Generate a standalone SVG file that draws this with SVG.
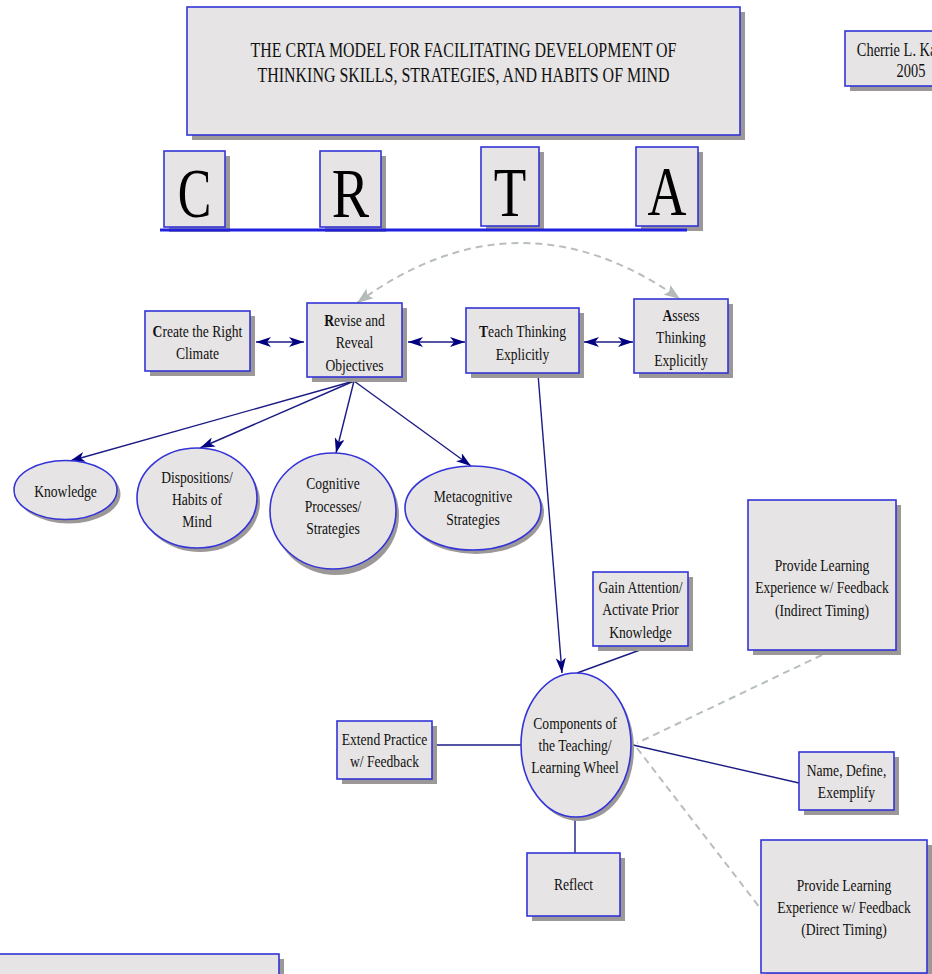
<svg xmlns="http://www.w3.org/2000/svg" width="932" height="974" viewBox="0 0 932 974">
<style>
.box{fill:#e6e4e4;stroke:#3434d8;stroke-width:1.6}
.sh{fill:#9c9898}
.t{font-family:"Liberation Serif","Times New Roman",serif;font-size:17px;fill:#111;text-anchor:middle}
.conn{stroke:#1c1c84;stroke-width:1.4;fill:none}
.dash{stroke:#b8bebe;stroke-width:2;stroke-dasharray:7 5;fill:none}
.big{font-family:"Liberation Serif","Times New Roman",serif;font-size:70px;fill:#000;text-anchor:middle}
</style>
<defs>
<marker id="nav" markerUnits="userSpaceOnUse" viewBox="0 0 15 10" markerWidth="15" markerHeight="10" refX="15" refY="5" orient="auto-start-reverse">
<path d="M0,0 L15,5 L0,10 L4,5 z" fill="#000080"/>
</marker>
<marker id="gry" markerUnits="userSpaceOnUse" viewBox="0 0 16 12" markerWidth="16" markerHeight="12" refX="16" refY="6" orient="auto-start-reverse">
<path d="M0,0 L16,6 L0,12 L3,6 z" fill="#b4bcb8"/>
</marker>
</defs>
<rect width="932" height="974" fill="#fff"/>

<g id="title">
<rect class="sh" x="192" y="12" width="553" height="128"/>
<rect class="box" x="187" y="7" width="553" height="128"/>
<text class="t" style="font-size:21px" transform="translate(463.5,57) scale(0.76,1)"><tspan x="0">THE CRTA MODEL FOR FACILITATING DEVELOPMENT OF</tspan><tspan x="0" y="25">THINKING SKILLS, STRATEGIES, AND HABITS OF MIND</tspan></text>
</g>

<g id="author">
<rect class="sh" x="850" y="36" width="130" height="55"/>
<rect class="box" x="845" y="31" width="130" height="55"/>
<text class="t" style="font-size:18px" transform="translate(911,56) scale(0.8,1)"><tspan x="0">Cherrie L. Kassem</tspan><tspan x="0" y="21">2005</tspan></text>
</g>

<g id="letter-C">
<rect class="sh" x="169" y="156" width="61" height="76"/>
<rect class="box" x="164" y="151" width="61" height="76"/>
<text class="big" transform="translate(194.5,217) scale(0.72,1)">C</text>
</g>
<g id="letter-R">
<rect class="sh" x="325" y="156" width="61" height="76"/>
<rect class="box" x="320" y="151" width="61" height="76"/>
<text class="big" transform="translate(350.5,217) scale(0.8,1)">R</text>
</g>
<g id="letter-T">
<rect class="sh" x="486" y="152" width="58" height="79"/>
<rect class="box" x="481" y="147" width="58" height="79"/>
<text class="big" transform="translate(510,216) scale(0.76,1)">T</text>
</g>
<g id="letter-A">
<rect class="sh" x="641" y="152" width="62" height="79"/>
<rect class="box" x="636" y="147" width="62" height="79"/>
<text class="big" transform="translate(667,215) scale(0.77,1)">A</text>
</g>
<g id="underline">
<line x1="160" y1="230" x2="687" y2="230" stroke="#2020e0" stroke-width="3"/>
</g>

<g id="connectors">
<path class="dash" d="M357,303 Q518,185 680,299" marker-start="url(#gry)" marker-end="url(#gry)"/>
<line class="conn" x1="256" y1="342" x2="304" y2="342" marker-start="url(#nav)" marker-end="url(#nav)"/>
<line class="conn" x1="408" y1="342" x2="465" y2="342" marker-start="url(#nav)" marker-end="url(#nav)"/>
<line class="conn" x1="584" y1="342" x2="633" y2="342" marker-start="url(#nav)" marker-end="url(#nav)"/>
<line class="conn" x1="354" y1="381" x2="70" y2="461" marker-end="url(#nav)"/>
<line class="conn" x1="354" y1="381" x2="200" y2="448" marker-end="url(#nav)"/>
<line class="conn" x1="354" y1="381" x2="336" y2="453" marker-end="url(#nav)"/>
<line class="conn" x1="354" y1="381" x2="471" y2="466" marker-end="url(#nav)"/>
<line class="conn" x1="538" y1="374" x2="562" y2="673" marker-end="url(#nav)"/>
<line class="conn" x1="640" y1="650" x2="577" y2="673"/>
<line class="dash" x1="822" y1="655" x2="637" y2="743"/>
<line class="conn" x1="633" y1="745" x2="799" y2="783"/>
<line class="dash" x1="637" y1="748" x2="760" y2="908"/>
<line class="conn" x1="432" y1="745" x2="521" y2="745"/>
<line class="conn" x1="575" y1="816" x2="575" y2="853"/>
</g>

<g id="create">
<rect class="sh" x="150" y="316" width="105" height="60"/>
<rect class="box" x="145" y="311" width="105" height="60"/>
<text class="t" transform="translate(197.5,337) scale(0.8,1)"><tspan x="0"><tspan font-weight="bold">C</tspan>reate the Right</tspan><tspan x="0" y="22">Climate</tspan></text>
</g>
<g id="revise">
<rect class="sh" x="312" y="308" width="95" height="74"/>
<rect class="box" x="307" y="303" width="95" height="74"/>
<text class="t" transform="translate(354.5,326) scale(0.8,1)"><tspan x="0"><tspan font-weight="bold">R</tspan>evise and</tspan><tspan x="0" y="22.5">Reveal</tspan><tspan x="0" y="45">Objectives</tspan></text>
</g>
<g id="teach">
<rect class="sh" x="471" y="313" width="113" height="65"/>
<rect class="box" x="466" y="308" width="113" height="65"/>
<text class="t" transform="translate(522.5,337) scale(0.8,1)"><tspan x="0"><tspan font-weight="bold">T</tspan>each Thinking</tspan><tspan x="0" y="23">Explicitly</tspan></text>
</g>
<g id="assess">
<rect class="sh" x="639" y="304" width="94" height="74"/>
<rect class="box" x="634" y="299" width="94" height="74"/>
<text class="t" transform="translate(681,321) scale(0.8,1)"><tspan x="0"><tspan font-weight="bold">A</tspan>ssess</tspan><tspan x="0" y="22.5">Thinking</tspan><tspan x="0" y="45">Explicitly</tspan></text>
</g>

<g id="knowledge">
<ellipse class="sh" cx="69" cy="494" rx="51.5" ry="29.5"/>
<ellipse class="box" cx="65.5" cy="490" rx="51.5" ry="29.5"/>
<text class="t" transform="translate(65.5,497) scale(0.8,1)">Knowledge</text>
</g>
<g id="dispositions">
<ellipse class="sh" cx="200" cy="502" rx="60" ry="50"/>
<ellipse class="box" cx="197" cy="498" rx="60" ry="50"/>
<text class="t" transform="translate(197,483) scale(0.8,1)"><tspan x="0">Dispositions/</tspan><tspan x="0" y="22">Habits of</tspan><tspan x="0" y="44">Mind</tspan></text>
</g>
<g id="cognitive">
<ellipse class="sh" cx="336" cy="515" rx="63" ry="60"/>
<ellipse class="box" cx="333" cy="511" rx="63" ry="58"/>
<text class="t" transform="translate(333,489) scale(0.8,1)"><tspan x="0">Cognitive</tspan><tspan x="0" y="23">Processes/</tspan><tspan x="0" y="45">Strategies</tspan></text>
</g>
<g id="metacognitive">
<ellipse class="sh" cx="476" cy="512" rx="68" ry="42"/>
<ellipse class="box" cx="473" cy="508" rx="68" ry="42"/>
<text class="t" transform="translate(473,502) scale(0.8,1)"><tspan x="0">Metacognitive</tspan><tspan x="0" y="23">Strategies</tspan></text>
</g>

<g id="wheel">
<ellipse class="sh" cx="579" cy="749" rx="55" ry="72"/>
<ellipse class="box" cx="576" cy="745" rx="55" ry="72"/>
<text class="t" transform="translate(575,729) scale(0.8,1)"><tspan x="0">Components of</tspan><tspan x="0" y="22">the Teaching/</tspan><tspan x="0" y="44">Learning Wheel</tspan></text>
</g>
<g id="gain">
<rect class="sh" x="598" y="577" width="95" height="74"/>
<rect class="box" x="593" y="572" width="95" height="74"/>
<text class="t" transform="translate(640.5,593) scale(0.8,1)"><tspan x="0">Gain Attention/</tspan><tspan x="0" y="22.5">Activate Prior</tspan><tspan x="0" y="45">Knowledge</tspan></text>
</g>
<g id="indirect">
<rect class="sh" x="753" y="505" width="148" height="150"/>
<rect class="box" x="748" y="500" width="148" height="150"/>
<text class="t" transform="translate(822,571) scale(0.8,1)"><tspan x="0">Provide Learning</tspan><tspan x="0" y="22.5">Experience w/ Feedback</tspan><tspan x="0" y="45">(Indirect Timing)</tspan></text>
</g>
<g id="name">
<rect class="sh" x="804" y="757" width="95" height="58"/>
<rect class="box" x="799" y="752" width="95" height="58"/>
<text class="t" transform="translate(846.5,776) scale(0.8,1)"><tspan x="0">Name, Define,</tspan><tspan x="0" y="22">Exemplify</tspan></text>
</g>
<g id="direct">
<rect class="sh" x="766" y="845" width="166" height="133"/>
<rect class="box" x="761" y="840" width="166" height="133"/>
<text class="t" transform="translate(844,891) scale(0.8,1)"><tspan x="0">Provide Learning</tspan><tspan x="0" y="22">Experience w/ Feedback</tspan><tspan x="0" y="44">(Direct Timing)</tspan></text>
</g>
<g id="extend">
<rect class="sh" x="342" y="726" width="95" height="58"/>
<rect class="box" x="337" y="721" width="95" height="58"/>
<text class="t" transform="translate(384.5,745) scale(0.8,1)"><tspan x="0">Extend Practice</tspan><tspan x="0" y="22">w/ Feedback</tspan></text>
</g>
<g id="reflect">
<rect class="sh" x="532" y="858" width="93" height="63"/>
<rect class="box" x="527" y="853" width="93" height="63"/>
<text class="t" transform="translate(573.5,890) scale(0.8,1)">Reflect</text>
</g>
<g id="bottom-box">
<rect class="sh" x="2" y="959" width="282" height="40"/>
<rect class="box" x="-3" y="954" width="282" height="40"/>
</g>
</svg>
